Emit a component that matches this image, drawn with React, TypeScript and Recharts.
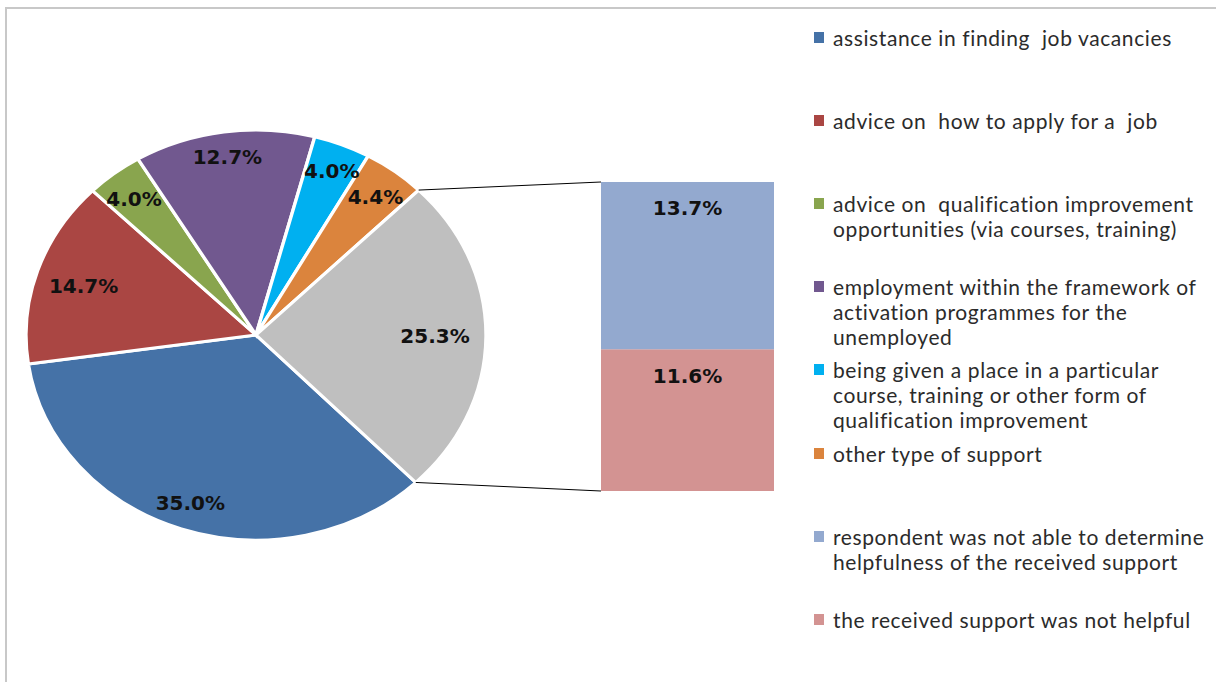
import { Bar, BarChart, LabelList, Pie, PieChart, XAxis, YAxis, Cell } from "recharts"

const pieNames = [
  "assistance in finding  job vacancies",
  "advice on  how to apply for a  job",
  "advice on  qualification improvement opportunities (via courses, training)",
  "employment within the framework of activation programmes for the unemployed",
  "being given a place in a particular course, training or other form of qualification improvement",
  "other type of support",
  "other",
]
const pieValues = [35.0, 14.7, 4.0, 12.7, 4.0, 4.4, 25.3]
const pieColors = ["#4572a7", "#aa4643", "#89a54e", "#71588f", "#00b0f0", "#db843d", "#bfbfbf"]

const barNames = [
  "the received support was not helpful",
  "respondent was not able to determine helpfulness of the received support",
]
const barValues = [11.6, 13.7]
const barColors = ["#d39392", "#93a9cf"]

const legendLines = [
  ["assistance in finding  job vacancies"],
  ["advice on  how to apply for a  job"],
  ["advice on  qualification improvement", "opportunities (via courses, training)"],
  ["employment within the framework of", "activation programmes for the", "unemployed"],
  ["being given a place in a particular", "course, training or other form of", "qualification improvement"],
  ["other type of support"],
  ["respondent was not able to determine", "helpfulness of the received support"],
  ["the received support was not helpful"],
]
const legendColors = [...pieColors.slice(0, 6), barColors[1], barColors[0]]

const pieData = pieNames.map((name, i) => ({ name, value: pieValues[i] }))
const barData = [
  { name: "other", [barNames[0]]: barValues[0], [barNames[1]]: barValues[1] },
]

// layout
const PIE_LEFT = 0
const PIE_TOP = 100
const PIE_W = 512
const PIE_H = 470
const PIE_CX = 256
const PIE_CY = 235
const RY = 205
const RX = 230
const SX = RX / RY
const START = -46
const END = START - 360

const BAR_LEFT = 601
const BAR_TOP = 182
const BAR_W = 173
const BAR_H = 309

const RAD = Math.PI / 180
const labelFont = "'DejaVu Sans', Verdana, sans-serif"
const fmt = (v: any) => `${Number(v).toFixed(1)}%`

// label sits inside the edge, pushed in by roughly half its box along the radius
const renderPieLabel = (props: any) => {
  const { cx, cy, midAngle, value } = props
  const text = fmt(value)
  const c = Math.cos(midAngle * RAD)
  const s = Math.sin(midAngle * RAD)
  const halfW = text.length * 6.8
  const halfH = 8
  const inset = 17 + halfW * c * c + halfH * s * s
  const x = cx + ((RX - inset) * c) / SX
  const y = cy - (RY - inset) * s
  return (
    <text
      x={x}
      y={y}
      transform={`translate(${x} ${y}) scale(${1 / SX} 1) translate(${-x} ${-y})`}
      textAnchor="middle"
      dominantBaseline="central"
      fontFamily={labelFont}
      fontWeight="bold"
      fontSize={20}
      fill="#111"
    >
      {text}
    </text>
  )
}

function Connectors() {
  const total = pieValues.reduce((a, b) => a + b, 0)
  const before = pieValues.slice(0, -1).reduce((a, b) => a + b, 0)
  const grayStart = START + (END - START) * (before / total)
  const pt = (deg: number) => ({
    x: PIE_LEFT + PIE_CX + RX * Math.cos(deg * RAD),
    y: PIE_TOP + PIE_CY - RY * Math.sin(deg * RAD),
  })
  const a = pt(grayStart)
  const b = pt(END)
  return (
    <svg width={1216} height={682} style={{ position: "absolute", left: 0, top: 0, pointerEvents: "none" }}>
      <line x1={a.x} y1={a.y} x2={BAR_LEFT} y2={BAR_TOP} stroke="#000" strokeWidth={1} />
      <line x1={b.x} y1={b.y} x2={BAR_LEFT} y2={BAR_TOP + BAR_H} stroke="#000" strokeWidth={1} />
    </svg>
  )
}

function Legend() {
  return (
    <div style={{ position: "absolute", left: 814, top: 25 }}>
      {legendLines.map((lines, i) => (
        <div
          key={i}
          style={{ position: "absolute", left: 0, top: i * 83.1, display: "flex", alignItems: "flex-start" }}
        >
          <div
            style={{ width: 10, height: 11, marginTop: 7, background: legendColors[i], flex: "none" }}
          />
          <div
            style={{
              marginLeft: 9,
              fontFamily: "Lato, 'Open Sans', sans-serif",
              fontSize: 21,
              letterSpacing: 0.6,
              lineHeight: "25px",
              color: "#2b2b2b",
              whiteSpace: "pre",
            }}
          >
            {lines.map((l, j) => (
              <div key={j}>{l}</div>
            ))}
          </div>
        </div>
      ))}
    </div>
  )
}

export default function App() {
  return (
    <div
      style={{
        position: "absolute",
        left: 0,
        top: 0,
        width: 1216,
        height: 682,
        overflow: "hidden",
        background: "#fff",
      }}
    >
      <div
        style={{
          position: "absolute",
          left: 5,
          top: 7,
          width: 1300,
          height: 800,
          borderTop: "2px solid #c8c8c8",
          borderLeft: "2px solid #c8c8c8",
        }}
      />
      <div
        style={{
          position: "absolute",
          left: PIE_LEFT,
          top: PIE_TOP,
          width: PIE_W,
          height: PIE_H,
          transform: `scaleX(${SX})`,
          transformOrigin: `${PIE_CX}px ${PIE_CY}px`,
        }}
      >
        <PieChart width={PIE_W} height={PIE_H} margin={{ top: 0, right: 0, bottom: 0, left: 0 }}>
          <Pie
            data={pieData}
            dataKey="value"
            nameKey="name"
            cx={PIE_CX}
            cy={PIE_CY}
            outerRadius={RY}
            startAngle={START}
            endAngle={END}
            stroke="#fff"
            strokeWidth={3}
            label={renderPieLabel}
            labelLine={false}
            isAnimationActive={false}
          >
            {pieData.map((d, i) => (
              <Cell key={d.name} fill={pieColors[i]} />
            ))}
          </Pie>
        </PieChart>
      </div>
      <Connectors />
      <div style={{ position: "absolute", left: BAR_LEFT, top: BAR_TOP }}>
        <BarChart
          width={BAR_W}
          height={BAR_H}
          data={barData}
          margin={{ top: 0, right: 0, bottom: 0, left: 0 }}
          barCategoryGap={0}
        >
          <XAxis dataKey="name" hide />
          <YAxis hide domain={[0, "dataMax"]} />
          {barNames.map((n, i) => (
            <Bar key={n} dataKey={n} stackId="a" fill={barColors[i]} isAnimationActive={false}>
              <LabelList
                dataKey={n}
                position="insideTop"
                offset={19}
                formatter={fmt}
                fill="#111"
                fontFamily={labelFont}
                fontWeight="bold"
                fontSize={20}
              />
            </Bar>
          ))}
        </BarChart>
      </div>
      <Legend />
    </div>
  )
}
